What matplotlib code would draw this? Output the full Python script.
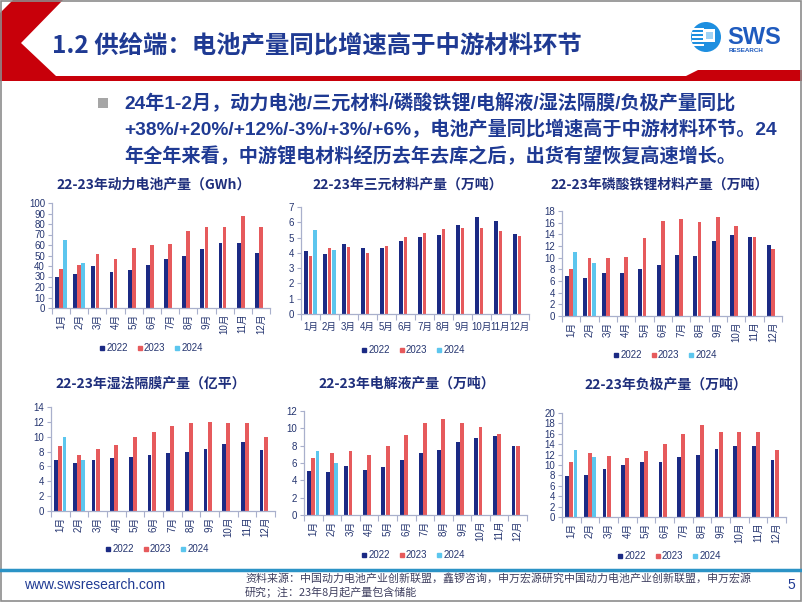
import numpy as np
import matplotlib
matplotlib.use("Agg")
import matplotlib.pyplot as plt
from matplotlib.patches import Polygon, Rectangle, Circle
from matplotlib.lines import Line2D

plt.rcParams['font.family'] = ['Noto Sans CJK SC', 'DejaVu Sans']

# ---------------- data ----------------
months = ['1月', '2月', '3月', '4月', '5月', '6月', '7月', '8月', '9月', '10月', '11月', '12月']
years = ['2022', '2023', '2024']

battery_2022 = [30, 32, 40, 34, 36, 41, 47, 50, 56, 62, 62, 52]
battery_2023 = [37, 41, 51, 47, 57, 60, 61, 73, 77, 77, 88, 77]
battery_2024 = [65, 43]

ncm_2022 = [4.15, 3.9, 4.6, 4.35, 4.35, 4.75, 5.05, 5.15, 5.85, 6.35, 6.1, 5.25]
ncm_2023 = [3.8, 4.3, 4.4, 4.0, 4.45, 5.05, 5.3, 5.55, 5.65, 5.6, 5.4, 5.1]
ncm_2024 = [5.5, 4.2]

lfp_2022 = [6.8, 6.6, 7.4, 7.3, 8.0, 8.8, 10.4, 10.3, 12.8, 13.9, 13.6, 12.2]
lfp_2023 = [8.0, 10.0, 10.0, 10.1, 13.4, 16.3, 16.7, 16.2, 16.9, 15.4, 13.6, 11.5]
lfp_2024 = [11.0, 9.1]

sep_2022 = [6.9, 6.5, 6.8, 7.2, 7.3, 7.6, 7.8, 8.0, 8.3, 9.0, 9.3, 8.2]
sep_2023 = [8.7, 7.5, 8.3, 8.9, 9.9, 10.7, 11.5, 11.9, 12.0, 11.8, 11.9, 9.9]
sep_2024 = [9.9, 6.8]

ele_2022 = [5.1, 5.0, 5.7, 5.2, 5.5, 6.3, 7.1, 7.5, 8.4, 8.9, 9.1, 8.0]
ele_2023 = [6.6, 7.2, 7.4, 6.9, 8.0, 9.2, 10.6, 11.1, 10.6, 10.1, 9.3, 8.0]
ele_2024 = [7.4, 6.0]

anode_2022 = [7.8, 8.0, 9.3, 10.0, 10.5, 10.5, 11.5, 12.0, 13.0, 13.7, 13.7, 11.0]
anode_2023 = [10.6, 12.3, 11.7, 11.3, 12.6, 14.1, 15.9, 17.6, 16.3, 16.3, 16.3, 12.9]
anode_2024 = [12.8, 11.6]

slide_title = '1.2 供给端：电池产量同比增速高于中游材料环节'
bullet_lines = [
    '24年1-2月，动力电池/三元材料/磷酸铁锂/电解液/湿法隔膜/负极产量同比',
    '+38%/+20%/+12%/-3%/+3%/+6%，电池产量同比增速高于中游材料环节。24',
    '年全年来看，中游锂电材料经历去年去库之后，出货有望恢复高速增长。',
]
source_lines = [
    '资料来源：中国动力电池产业创新联盟，鑫锣咨询，申万宏源研究中国动力电池产业创新联盟，申万宏源',
    '研究；注：23年8月起产量包含储能',
]

# ---------------- styles ----------------
W, H = 802, 602
C22, C23, C24 = '#1B2A84', '#E65A5C', '#5CC6EE'
NAVY = '#1F3A93'
TICKC = '#253570'
AXC = '#A9B0CC'
NUMFONT = ['Liberation Sans', 'Noto Sans CJK SC']

fig = plt.figure(figsize=(W / 100, H / 100), dpi=100)
bg = fig.add_axes([0, 0, 1, 1])
bg.set_xlim(0, W)
bg.set_ylim(H, 0)
bg.axis('off')

# header shapes
bg.add_patch(Polygon([(13, 0), (63, 0), (21, 43), (56, 76), (686, 76), (698, 70), (802, 70),
                      (802, 81), (0, 81), (0, 13)], closed=True, color='#C8000A', lw=0))
bg.text(52, 46, slide_title, fontsize=17.6, fontweight='bold', color=NAVY, va='center', ha='left')

# logo
bg.add_patch(Circle((706, 37), 15, color='#1E8FE0', lw=0))
for yy in [29, 33, 37, 41, 45]:
    bg.add_patch(Rectangle((692, yy - 1), 12, 2, color='white', lw=0))
bg.add_patch(Rectangle((703, 29), 12, 13, color='white', lw=0))
bg.add_patch(Rectangle((706, 32), 7, 7, color='#9FD3F5', lw=0))
bg.text(727, 37, 'SWS', fontsize=17, fontweight='bold', color='#1F5BBE', va='center', ha='left',
        family=['Liberation Sans'])
bg.text(729, 51, 'RESEARCH', fontsize=4.5, fontweight='bold', color='#1F5BBE', va='center', ha='left',
        family=['Liberation Sans'])

# bullet
bg.add_patch(Rectangle((98, 98), 10, 10, color='#A6A6A6', lw=0))
for i, line in enumerate(bullet_lines):
    bg.text(124, 103 + 26 * i, line, fontsize=13.8, fontweight='bold', color=NAVY, va='center', ha='left',
            family=NUMFONT)

# footer
bg.plot([0, W], [570, 570], color='#2B93C6', lw=2.5)
bg.text(24, 585, 'www.swsresearch.com', fontsize=10, color='#1F3A93', va='center', ha='left',
        family=['Liberation Sans'])
bg.text(245, 578, source_lines[0], fontsize=7.9, color='#404060', va='center', ha='left')
bg.text(245, 592, source_lines[1], fontsize=7.9, color='#404060', va='center', ha='left')
bg.text(791, 585, '5', fontsize=10, color='#1F3A93', va='center', ha='center', family=['Liberation Sans'])
# frame
bg.add_patch(Rectangle((0.5, 0.5), W - 1.5, H - 1.5, fill=False, ec='#8C8C8C', lw=1.2))


def add_chart(x0, x1, ytop, ybot, ymax, ystep, d22, d23, d24, title, title_xy, legend_xy, rotate):
    ax = fig.add_axes([x0 / W, 1 - ybot / H, (x1 - x0) / W, (ybot - ytop) / H])
    x = np.arange(len(months))
    w, off = 0.21, 0.225
    ax.bar(x - off, d22, width=w, color=C22, lw=0)
    ax.bar(x, d23, width=w, color=C23, lw=0)
    ax.bar(np.arange(len(d24)) + off, d24, width=w, color=C24, lw=0)
    ax.set_xlim(-0.5, len(months) - 0.5)
    ax.set_ylim(0, ymax)
    ax.set_yticks(np.arange(0, ymax + ystep / 2, ystep))
    ax.set_yticklabels([f'{v:g}' for v in np.arange(0, ymax + ystep / 2, ystep)],
                       family=NUMFONT, fontsize=7, color=TICKC)
    ax.set_xticks(x)
    if rotate:
        ax.set_xticklabels(months, rotation=90, fontsize=7, color=TICKC, family=NUMFONT, va='top')
        ax.tick_params(axis='x', which='major', length=0, pad=4)
    else:
        ax.set_xticklabels(months, fontsize=6.9, color=TICKC, family=NUMFONT)
        ax.tick_params(axis='x', which='major', length=0, pad=6)
    ax.set_xticks(np.arange(-0.5, len(months)), minor=True)
    ax.tick_params(axis='x', which='minor', length=4, color=AXC, width=0.8)
    ax.tick_params(axis='y', length=3, color=AXC, width=0.8, pad=2)
    for s in ['top', 'right']:
        ax.spines[s].set_visible(False)
    for s in ['left', 'bottom']:
        ax.spines[s].set_color(AXC)
        ax.spines[s].set_linewidth(0.9)
    ax.set_facecolor('none')
    fig.text(title_xy[0] / W, 1 - title_xy[1] / H, title, fontsize=10, fontweight='bold',
             color='#1F2F7C', ha='center', va='center')
    handles = [Line2D([], [], marker='s', ls='none', markersize=3.5, color=c) for c in (C22, C23, C24)]
    leg = ax.legend(handles, years, loc='center', bbox_to_anchor=(legend_xy[0] / W, 1 - legend_xy[1] / H),
                    bbox_transform=fig.transFigure, ncol=3, frameon=False, handlelength=0.6,
                    handletextpad=0.15, columnspacing=0.9, prop={'family': NUMFONT, 'size': 7})
    for t in leg.get_texts():
        t.set_color(TICKC)
    return ax


add_chart(52, 270, 203, 308, 100, 10, battery_2022, battery_2023, battery_2024,
          '22-23年动力电池产量（GWh）', (154, 185), (151, 348), True)
add_chart(301, 529, 207, 314, 7, 1, ncm_2022, ncm_2023, ncm_2024,
          '22-23年三元材料产量（万吨）', (408, 185), (413, 350), False)
add_chart(562, 782, 211, 316, 18, 2, lfp_2022, lfp_2023, lfp_2024,
          '22-23年磷酸铁锂材料产量（万吨）', (660, 185), (665, 355), True)
add_chart(51, 275, 407, 511, 14, 2, sep_2022, sep_2023, sep_2024,
          '22-23年湿法隔膜产量（亿平）', (151, 384), (157, 549), True)
add_chart(304, 527, 411, 515, 12, 2, ele_2022, ele_2023, ele_2024,
          '22-23年电解液产量（万吨）', (407, 384), (413, 555), True)
add_chart(562, 786, 413, 517, 20, 2, anode_2022, anode_2023, anode_2024,
          '22-23年负极产量（万吨）', (666, 385), (669, 556), True)

fig.savefig('out.png', dpi=100)
